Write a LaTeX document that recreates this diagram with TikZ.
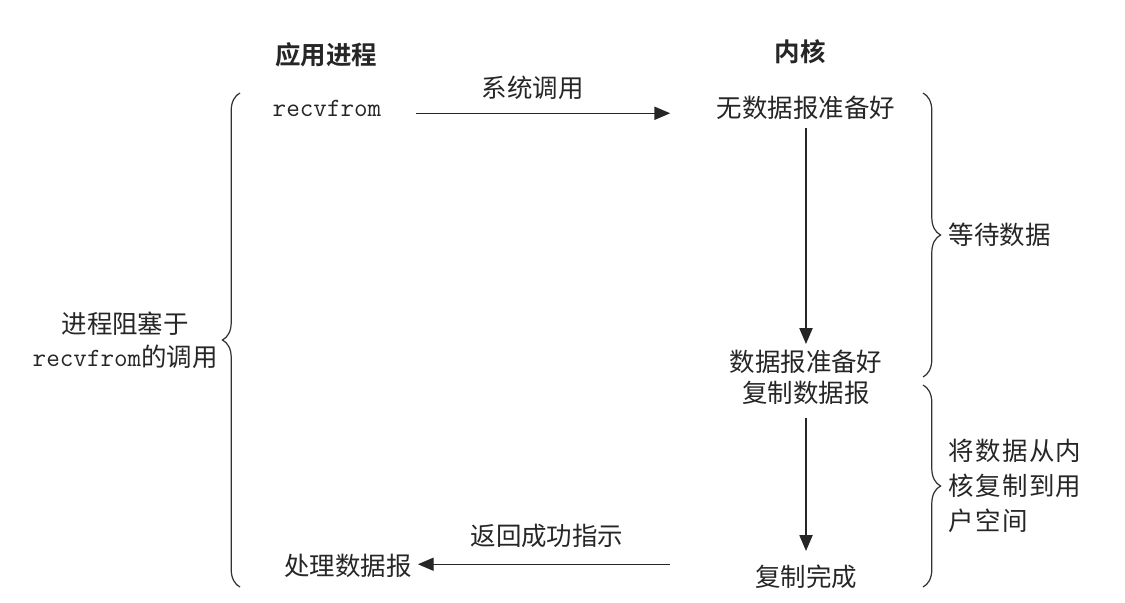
\documentclass[tikz,border=0pt]{standalone}
\usepackage{fontspec}
\newfontfamily\cjk{Noto Sans CJK SC}[BoldFont={Noto Sans CJK SC Bold}]
\usetikzlibrary{arrows.meta,decorations.pathreplacing}
\newcommand{\codefont}{\ttfamily\fontsize{15pt}{19pt}\selectfont}
\tikzset{
	txt/.style={font=\cjk\fontsize{14.5pt}{19pt}\selectfont,text=black!85},
	head/.style={txt,font=\cjk\bfseries\fontsize{14.5pt}{19pt}\selectfont},
	mono/.style={font=\codefont,text=black!85},
	arr/.style={draw=black!85,line width=0.7pt,-{Triangle[length=9pt,width=7.5pt]}},
	brc/.style={draw=black!80,line width=0.7pt,decorate,decoration={brace,amplitude=10pt}}
}
\begin{document}
\begin{tikzpicture}[x=0.02cm,y=-0.02cm]
	\useasboundingbox (0,0) rectangle (1125,602);
	% column heads
	\node[head] (app) at (326,55) {应用进程};
	\node[head] (kern) at (800,52) {内核};
	% application side
	\node[mono] (recv) at (327,108) {recvfrom};
	\node[txt] (proc) at (348,566) {处理数据报};
	% kernel side
	\node[txt] (nodata) at (806,108) {无数据报准备好};
	\node[txt] (ready) at (806,362) {数据报准备好};
	\node[txt] (copy) at (806,393) {复制数据报};
	\node[txt] (done) at (806,577) {复制完成};
	% arrows
	\draw[arr,shorten <=16pt,shorten >=23pt] ([yshift=-3pt]recv.east) -- ([yshift=-3pt]nodata.west)
		node[txt,pos=0.45,above=4pt] (call) {系统调用};
	\draw[arr,shorten <=1pt] (nodata.south) -- (ready.north);
	\draw[arr,shorten <=4pt,shorten >=4.5pt] (copy.south) -- (done.north);
	\draw[arr,shorten <=45pt] ([yshift=1pt]done.west |- proc.east) -- ([yshift=1pt]proc.east)
		node[txt,pos=0.61,above=6pt] (ret) {返回成功指示};
	% braces
	\draw[brc] (240,587) -- (240,93)
		node[txt,midway,left=9pt,align=center] (block) {进程阻塞于\\{\codefont recvfrom}的调用};
	\draw[brc] (923,93) -- (923,377)
		node[txt,midway,right=11pt] (wait) {等待数据};
	\draw[brc] (923,385) -- (923,587)
		node[txt,midway,right=11pt,align=left,font=\cjk\fontsize{14.5pt}{20pt}\selectfont\addfontfeatures{LetterSpace=5}] (move) {将数据从内\\核复制到用\\户空间};
\end{tikzpicture}
\end{document}
